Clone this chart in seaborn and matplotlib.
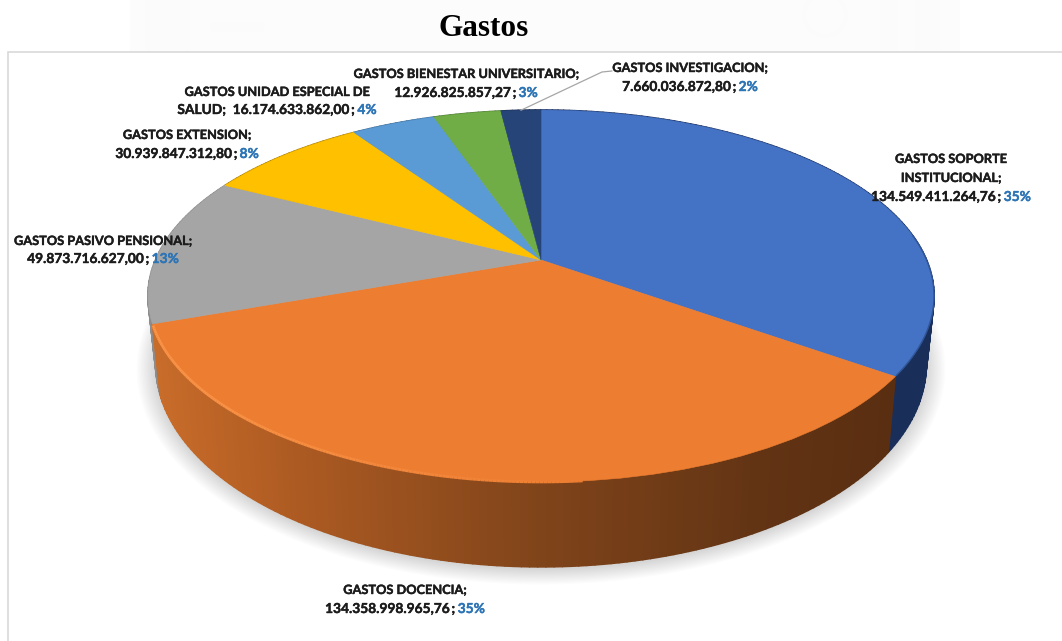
import numpy as np
import matplotlib
matplotlib.use("Agg")
import matplotlib.pyplot as plt
import matplotlib.patheffects as pe
import seaborn as sns
from matplotlib.collections import PolyCollection, LineCollection
from matplotlib.patches import Rectangle, Circle
from matplotlib.transforms import Transform

# Expense groups, clockwise from twelve o'clock
name_lines = [
    ["GASTOS SOPORTE", "INSTITUCIONAL;"],
    ["GASTOS DOCENCIA;"],
    ["GASTOS PASIVO PENSIONAL;"],
    ["GASTOS EXTENSION;"],
    ["GASTOS UNIDAD ESPECIAL DE"],
    ["GASTOS BIENESTAR UNIVERSITARIO;"],
    ["GASTOS INVESTIGACION;"],
]
amounts = [134549411264.76, 134358998965.76, 49873716627.00, 30939847312.80,
           16174633862.00, 12926825857.27, 7660036872.80]
value_prefix = ["", "", "", "", "SALUD;  ", "", ""]
# Centre x and line y for each label
label_x = [951, 405, 103, 187, 277, 466, 690]
label_y = [[158, 177, 196], [589, 608], [240, 258], [134, 153], [91, 109], [73, 92], [67, 86]]
slice_colors = ["#4472C4", "#ED7D31", "#A5A5A5", "#FFC000", "#5B9BD5", "#70AD47", "#264478"]
wall_colors = ["#1A2E5A", None, "#8C8C8C", "#A67C00", "#3A6A96", "#4A7530", "#18294A"]
title = "Gastos"

sns.set_theme(style="white")
plt.rcParams["font.family"] = ["Lato", "DejaVu Sans"]
palette = sns.color_palette(slice_colors)

fig = plt.figure(figsize=(10.62, 6.41), dpi=100, facecolor="white")
ax = fig.add_axes([0, 0, 1, 1])

# Perspective constants of the tilted disc, in figure pixels
CX, CY = 541.0, 260.0
TILT, DEPTH_A, WIDTH_B = 0.1935, 179.0, 385.6


class DiscPerspective(Transform):
    """Maps the unit pie disc onto the tilted, foreshortened top face."""
    input_dims = output_dims = 2

    def transform_non_affine(self, values):
        values = np.asarray(values, dtype=float)
        w = 1 + TILT * values[:, 1]
        return np.column_stack((CX + WIDTH_B * values[:, 0] / w,
                                CY - DEPTH_A * values[:, 1] / w))


disc = DiscPerspective()


def top_ring(theta):
    pts = np.column_stack((np.cos(theta), np.sin(theta)))
    return disc.transform_non_affine(pts)


def bottom_ring(theta):
    p = top_ring(theta)
    return np.column_stack((CX + (p[:, 0] - CX) * 0.98,
                            CY + 65.6 + (p[:, 1] - CY) * 1.087))


wedges, _ = ax.pie(amounts, startangle=90, counterclock=False, colors=palette, radius=1.0,
                   wedgeprops=dict(linewidth=0.4, zorder=6))
ax.set_aspect("auto")
ax.set_xlim(0, 1062)
ax.set_ylim(641, 0)
ax.axis("off")
for w, c in zip(wedges, palette):
    w.set_edgecolor(c)
    w.set_transform(disc + ax.transData)

# Page backdrop and frame of the chart area
ax.add_patch(Rectangle((130, 0), 830, 52, color="#FCFCFC", lw=0, zorder=0))
for x0, wd in [(145, 45), (880, 18), (915, 25), (170, 6)]:
    ax.add_patch(Rectangle((x0, 0), wd, 52, color="#FAFBFA", lw=0, zorder=0.1))
ax.add_patch(Circle((825, 15), 21, fill=False, ec="#FAFBFA", lw=2.5, zorder=0.1))
ax.plot([215, 260], [27, 27], color="#FAFBFA", lw=7, zorder=0.1)
ax.plot([8, 8, 1062], [641, 52, 52], color="#D9D9D9", lw=1.2, zorder=1, solid_joinstyle="miter")

# Soft shadow under the disc
full = np.linspace(0, 2 * np.pi, 360)
base = bottom_ring(full)
for grow in np.arange(20, 0, -1.5):
    sx = CX + (base[:, 0] - CX) * (1 + grow / 400)
    sy = CY + 66 + (base[:, 1] - CY - 66) * (1 + grow / 307)
    ax.fill(sx, sy + 2, color="black", alpha=0.012, lw=0, zorder=2)

# Side wall, cut into thin facets so that the shading can vary along the rim
fractions = np.array(amounts) / np.sum(amounts)
edges = np.pi / 2 - 2 * np.pi * np.concatenate(([0], np.cumsum(fractions)))
polys, facecols = [], []
for i in range(len(amounts)):
    n = max(int(abs(edges[i + 1] - edges[i]) / np.radians(1.0)), 2)
    th = np.linspace(edges[i], edges[i + 1], n + 1)
    t, b = top_ring(th), bottom_ring(th)
    for j in range(n):
        polys.append([t[j], t[j + 1], b[j + 1], b[j]])
        xm = (t[j, 0] + t[j + 1, 0]) / 2
        if wall_colors[i] is None:
            rgb = [np.interp(xm, [155, 300, 541, 760, 890], ch) / 255 for ch in
                   ([200, 172, 128, 98, 90], [108, 90, 68, 52, 46], [42, 34, 26, 20, 17])]
        else:
            rgb = matplotlib.colors.to_rgb(wall_colors[i])
        facecols.append(rgb)
order = np.argsort([p[2][1] for p in polys])
ax.add_collection(PolyCollection([polys[k] for k in order],
                                 facecolors=[facecols[k] for k in order],
                                 edgecolors=[facecols[k] for k in order],
                                 linewidths=1.2, zorder=3))

# Bevel along the front rim of the top face: bright on the left, fading to the right
th = np.linspace(np.radians(-160), np.radians(-85), 160)
p = top_ring(th)
segs = np.stack((p[:-1], p[1:]), axis=1)
mix = np.interp(np.degrees(th[:-1]), [-160, -135, -105, -85], [1, 0.9, 0.4, 0])
base_rgb = np.array(matplotlib.colors.to_rgb(slice_colors[1]))
rim_cols = np.outer(mix, [250 / 255, 148 / 255, 72 / 255]) + np.outer(1 - mix, base_rgb)
ax.add_collection(LineCollection(segs, colors=rim_cols, linewidths=2, zorder=7))
th = np.linspace(np.radians(-35), np.radians(8), 60)
ax.plot(*top_ring(th).T, color="#2F5597", lw=1.0, zorder=7)

# Leader line of the smallest slice
mid = (edges[-2] + edges[-1]) / 2
tip = top_ring(np.array([mid]))[0]
ax.plot([612, 602, tip[0]], [71, 72, tip[1]], color="#A6A6A6", lw=0.9, zorder=8)


def as_amount(v):
    return f"{v:,.2f}".replace(",", "_").replace(".", ",").replace("_", ".")


def draw_line(cx, cy, parts, size):
    """Draws one centred line made of differently coloured runs."""
    renderer = fig.canvas.get_renderer()
    items = [ax.text(0, cy, s, color=c, fontsize=size, fontweight="bold", va="center_baseline",
                     ha="left", zorder=9,
                     path_effects=[pe.withStroke(linewidth=0.3, foreground=c)])
             for s, c in parts]
    widths = [t.get_window_extent(renderer).width for t in items]
    x = cx - sum(widths) / 2
    for t, wd in zip(items, widths):
        t.set_x(x)
        x += wd


INK, PCT = "#1C1C1C", "#2E75B6"
for i, names in enumerate(name_lines):
    pct = f"{fractions[i] * 100:.0f}%"
    ys = label_y[i]
    for line, y in zip(names, ys):
        draw_line(label_x[i], y, [(line, INK)], 9.2)
    value = f"{value_prefix[i]}{as_amount(amounts[i])}\u2009;\u2009"
    draw_line(label_x[i], ys[-1], [(value, INK), (pct, PCT)], 9.9)

ax.text(484, 29, title, family="Liberation Serif", fontweight="bold", fontsize=22.5,
        color="black", ha="center", va="center", zorder=9)

fig.savefig("out.png", dpi=100, facecolor="white")
